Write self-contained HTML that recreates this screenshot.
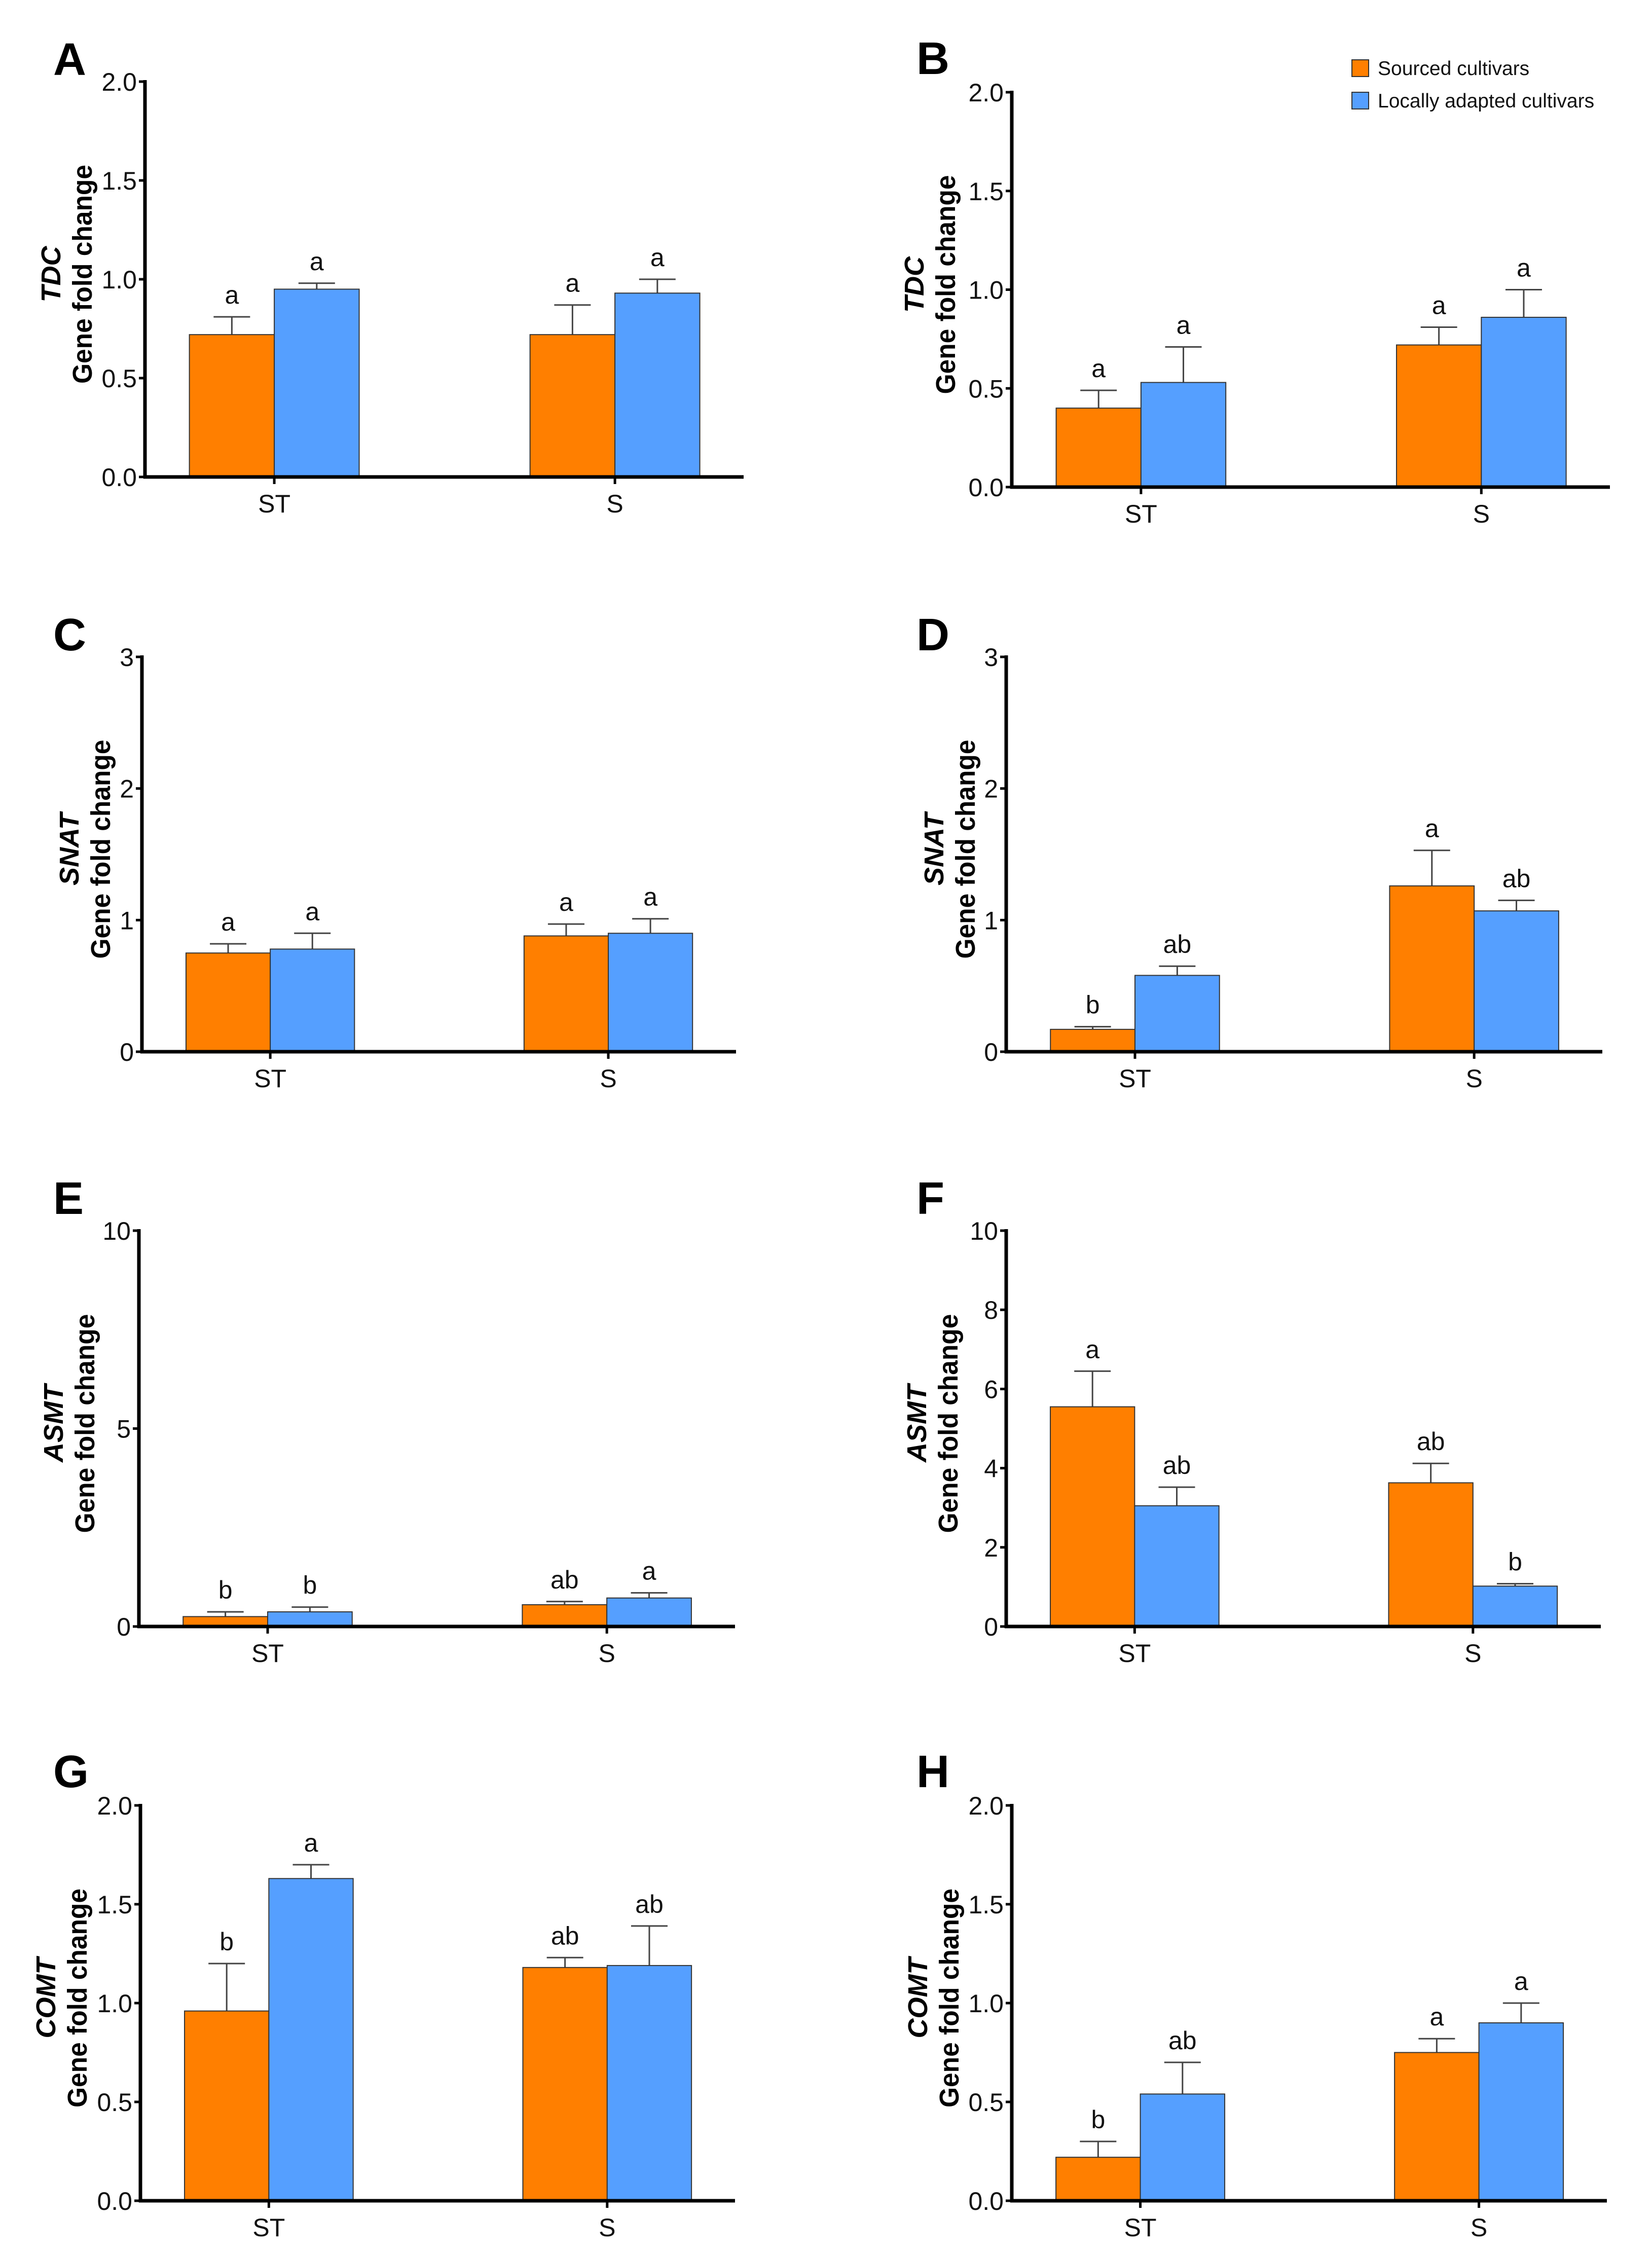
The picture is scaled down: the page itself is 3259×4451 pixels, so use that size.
<!DOCTYPE html>
<html><head><meta charset="utf-8"><style>
html,body{margin:0;padding:0;background:#fff}
svg{display:block}
text{font-family:"Liberation Sans",Arial,sans-serif}
</style></head><body>
<svg id="fig" xmlns="http://www.w3.org/2000/svg" width="3259" height="4451" viewBox="0 0 3259 4451"></svg>
<script>
const categories = ["ST", "S"];
const seriesNames = ["Sourced cultivars", "Locally adapted cultivars"];

const A_sourced = [0.72, 0.72];   const A_sourcedTop = [0.81, 0.87];
const A_local   = [0.95, 0.93];   const A_localTop   = [0.98, 1.00];
const A_sourcedLetters = ["a", "a"]; const A_localLetters = ["a", "a"];
const A_ticks = ["0.0", "0.5", "1.0", "1.5", "2.0"];

const B_sourced = [0.40, 0.72];   const B_sourcedTop = [0.49, 0.81];
const B_local   = [0.53, 0.86];   const B_localTop   = [0.71, 1.00];
const B_sourcedLetters = ["a", "a"]; const B_localLetters = ["a", "a"];
const B_ticks = ["0.0", "0.5", "1.0", "1.5", "2.0"];

const C_sourced = [0.75, 0.88];   const C_sourcedTop = [0.82, 0.97];
const C_local   = [0.78, 0.90];   const C_localTop   = [0.90, 1.01];
const C_sourcedLetters = ["a", "a"]; const C_localLetters = ["a", "a"];
const C_ticks = ["0", "1", "2", "3"];

const D_sourced = [0.17, 1.26];   const D_sourcedTop = [0.19, 1.53];
const D_local   = [0.58, 1.07];   const D_localTop   = [0.65, 1.15];
const D_sourcedLetters = ["b", "a"]; const D_localLetters = ["ab", "ab"];
const D_ticks = ["0", "1", "2", "3"];

const E_sourced = [0.25, 0.55];   const E_sourcedTop = [0.37, 0.63];
const E_local   = [0.37, 0.72];   const E_localTop   = [0.49, 0.85];
const E_sourcedLetters = ["b", "ab"]; const E_localLetters = ["b", "a"];
const E_ticks = ["0", "5", "10"];

const F_sourced = [5.55, 3.63];   const F_sourcedTop = [6.45, 4.12];
const F_local   = [3.05, 1.02];   const F_localTop   = [3.52, 1.08];
const F_sourcedLetters = ["a", "ab"]; const F_localLetters = ["ab", "b"];
const F_ticks = ["0", "2", "4", "6", "8", "10"];

const G_sourced = [0.96, 1.18];   const G_sourcedTop = [1.20, 1.23];
const G_local   = [1.63, 1.19];   const G_localTop   = [1.70, 1.39];
const G_sourcedLetters = ["b", "ab"]; const G_localLetters = ["a", "ab"];
const G_ticks = ["0.0", "0.5", "1.0", "1.5", "2.0"];

const H_sourced = [0.22, 0.75];   const H_sourcedTop = [0.30, 0.82];
const H_local   = [0.54, 0.90];   const H_localTop   = [0.70, 1.00];
const H_sourcedLetters = ["b", "a"]; const H_localLetters = ["ab", "a"];
const H_ticks = ["0.0", "0.5", "1.0", "1.5", "2.0"];

const NS = "http://www.w3.org/2000/svg";
const svg = document.getElementById("fig");
function mk(tag, attrs, parent, txt) {
  const e = document.createElementNS(NS, tag);
  for (const k in attrs) e.setAttribute(k, attrs[k]);
  if (txt !== undefined) e.textContent = txt;
  (parent || svg).appendChild(e);
  return e;
}

const panels = [
  {id:"A", gene:"TDC",  x0:286,  x1:1467, yTop:161,  yBase:941,  max:2,  tl:A_ticks, s:A_sourced, se:A_sourcedTop, l:A_local, le:A_localTop, sl:A_sourcedLetters, ll:A_localLetters, tx:162, lx:105, ly:148},
  {id:"B", gene:"TDC",  x0:1996, x1:3176, yTop:182,  yBase:961,  max:2,  tl:B_ticks, s:B_sourced, se:B_sourcedTop, l:B_local, le:B_localTop, sl:B_sourcedLetters, ll:B_localLetters, tx:1865, lx:1808, ly:146},
  {id:"C", gene:"SNAT", x0:280,  x1:1452, yTop:1296, yBase:2075, max:3,  tl:C_ticks, s:C_sourced, se:C_sourcedTop, l:C_local, le:C_localTop, sl:C_sourcedLetters, ll:C_localLetters, tx:198, lx:105, ly:1283},
  {id:"D", gene:"SNAT", x0:1985, x1:3161, yTop:1296, yBase:2075, max:3,  tl:D_ticks, s:D_sourced, se:D_sourcedTop, l:D_local, le:D_localTop, sl:D_sourcedLetters, ll:D_localLetters, tx:1904, lx:1808, ly:1283},
  {id:"E", gene:"ASMT", x0:274,  x1:1450, yTop:2428, yBase:3209, max:10, tl:E_ticks, s:E_sourced, se:E_sourcedTop, l:E_local, le:E_localTop, sl:E_sourcedLetters, ll:E_localLetters, tx:167, lx:105, ly:2395},
  {id:"F", gene:"ASMT", x0:1985, x1:3158, yTop:2428, yBase:3209, max:10, tl:F_ticks, s:F_sourced, se:F_sourcedTop, l:F_local, le:F_localTop, sl:F_sourcedLetters, ll:F_localLetters, tx:1870, lx:1808, ly:2395},
  {id:"G", gene:"COMT", x0:277,  x1:1450, yTop:3562, yBase:4342, max:2,  tl:G_ticks, s:G_sourced, se:G_sourcedTop, l:G_local, le:G_localTop, sl:G_sourcedLetters, ll:G_localLetters, tx:152, lx:105, ly:3526},
  {id:"H", gene:"COMT", x0:1996, x1:3170, yTop:3562, yBase:4342, max:2,  tl:H_ticks, s:H_sourced, se:H_sourcedTop, l:H_local, le:H_localTop, sl:H_sourcedLetters, ll:H_localLetters, tx:1872, lx:1808, ly:3526}
];

// fix B geometry measured from reference (top 2.0 / baseline)
panels[1].yTop = 182; panels[1].yBase = 961;

const ORANGE = "#FF7F00", BLUE = "#559FFF";

panels.forEach(p => {
  const g = mk("g", {});
  
  
  const y = v => p.yBase - (v / p.max) * (p.yBase - p.yTop);
  const w = p.x1 - p.x0;
  const cx = i => p.x0 + w * (0.216 + i * 0.569);
  const bw = w * 0.1418;

  const lab = mk("text", {x:p.lx, y:p.ly, "font-size":90, "font-weight":"bold"}, g, p.id);
  
  

  // bars
  categories.forEach((c, i) => {
    const sets = [[p.s, p.se, p.sl, ORANGE, -1, "sourced"], [p.l, p.le, p.ll, BLUE, 0, "local"]];
    sets.forEach(([vals, tops, lets, col, off, nm]) => {
      const bx = cx(i) + off * bw;
      const v = vals[i], t = tops[i];
      const ex = bx + bw / 2;
      const eb = mk("path", {d:`M${ex},${y(v)}V${y(t)}M${ex-36},${y(t)}H${ex+36}`, stroke:"#444", "stroke-width":3, fill:"none"}, g);
      
      
      const r = mk("rect", {x:bx, y:y(v), width:bw, height:p.yBase - y(v), fill:col, stroke:"#333", "stroke-width":2}, g);
      
      
      const lt = mk("text", {x:ex, y:y(t) - 26, "font-size":50, "text-anchor":"middle", fill:"#111"}, g, lets[i]);
      
      
    });
    const ct = mk("text", {x:cx(i), y:p.yBase + 70, "font-size":50, "text-anchor":"middle", fill:"#111"}, g, c);
    
    
    const tk = mk("line", {x1:cx(i), x2:cx(i), y1:p.yBase, y2:p.yBase + 14, stroke:"#000", "stroke-width":5}, g);
    
    
  });

  // y ticks
  p.tl.forEach((t, k) => {
    const yy = y(parseFloat(t));
    const tk = mk("line", {x1:p.x0 - 12, x2:p.x0, y1:yy, y2:yy, stroke:"#000", "stroke-width":5}, g);
    
    
    const tt = mk("text", {x:p.x0 - 16, y:yy + 18, "font-size":50, "text-anchor":"end", fill:"#111"}, g, t);
    
    
  });

  // axes
  const ya = mk("line", {x1:p.x0, x2:p.x0, y1:p.yTop - 3, y2:p.yBase + 3, stroke:"#000", "stroke-width":7}, g);
  
  
  const xa = mk("line", {x1:p.x0 - 3, x2:p.x1, y1:p.yBase, y2:p.yBase, stroke:"#000", "stroke-width":7}, g);
  
  

  // y title
  const my = (p.yTop + p.yBase) / 2 - 10;
  const t2 = mk("text", {x:p.tx, y:my, "font-size":54, "font-weight":"bold", "text-anchor":"middle", transform:`rotate(-90 ${p.tx} ${my})`, dy:"0.35em", textLength:432, lengthAdjust:"spacingAndGlyphs"}, g, "Gene fold change");
  
  
  const gx = p.tx - 62;
  const t1 = mk("text", {x:gx, y:my, "font-size":54, "font-weight":"bold", "font-style":"italic", "text-anchor":"middle", transform:`rotate(-90 ${gx} ${my})`, dy:"0.35em"}, g, p.gene);
  
  
});

// legend
const lg = mk("g", {});


[[ORANGE, seriesNames[0], 118], [BLUE, seriesNames[1], 182]].forEach(([col, name, yy], i) => {
  const sw = mk("rect", {x:2667, y:yy, width:33, height:33, fill:col, stroke:"#333", "stroke-width":2}, lg);
  
  
  const tx = mk("text", {x:2718, y:yy + 30, "font-size":39, fill:"#111"}, lg, name);
  
  
});
</script>
</body></html>
